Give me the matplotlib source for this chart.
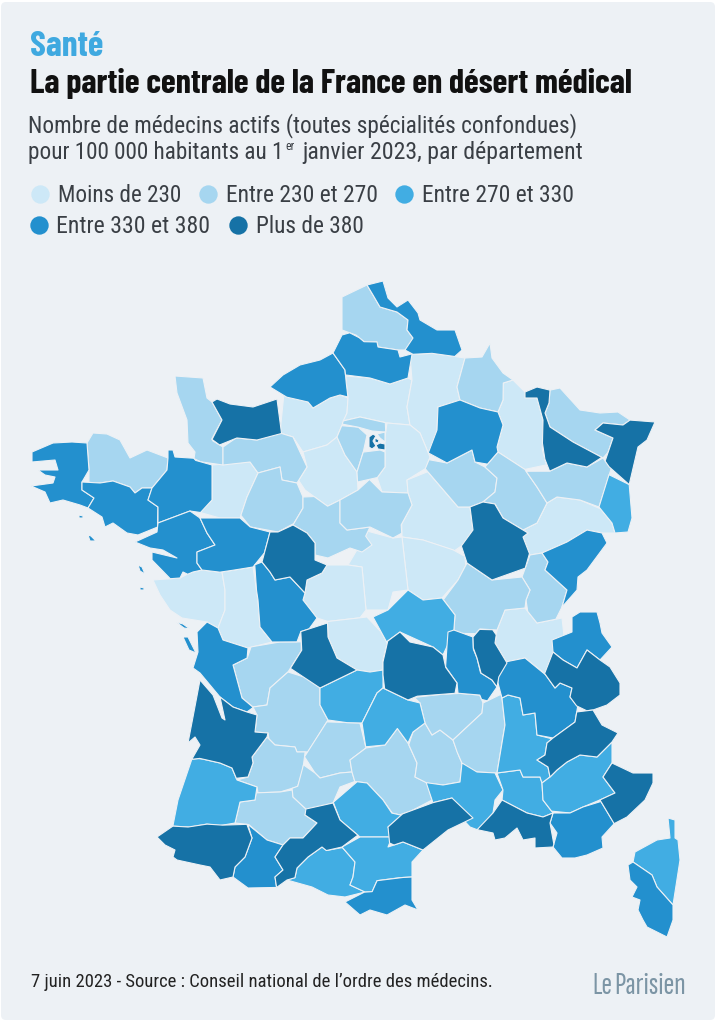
import matplotlib
matplotlib.use("Agg")
import matplotlib.pyplot as plt
import numpy as np
from matplotlib.patches import FancyBboxPatch, Polygon

# classes: 0 <230, 1 230-270, 2 270-330, 3 330-380, 4 >380
LEGEND_LABELS = ["Moins de 230", "Entre 230 et 270", "Entre 270 et 330",
                 "Entre 330 et 380", "Plus de 380"]
CLASS_COLORS = ["#CDE8F7", "#A6D6F0", "#41ADE3", "#2390CE", "#1672A6"]
BG = "#EDF1F5"

CLASS_0 = ["Mayenne", "Vendee", "Deux-Sevres", "Eure", "Eure-et-Loir", "Oise", "Aisne",
           "Seine-et-Marne", "Yonne", "Nievre", "Cher", "Indre", "Creuse", "Meuse",
           "Haute-Saone", "Ain"]
CLASS_1 = ["Cotes-d'Armor", "Manche", "Orne", "Sarthe", "Loir-et-Cher", "Loiret", "Yvelines",
           "Val-d'Oise", "Essonne", "Seine-Saint-Denis", "Pas-de-Calais", "Ardennes", "Aube",
           "Haute-Marne", "Moselle", "Vosges", "Jura", "Saone-et-Loire", "Charente", "Dordogne",
           "Lot-et-Garonne", "Gers", "Lot", "Tarn-et-Garonne", "Aveyron", "Lozere",
           "Haute-Loire", "Ardeche"]
CLASS_2 = ["Haut-Rhin", "Allier", "Correze", "Cantal", "Landes", "Ariege", "Tarn", "Aude", "Gard",
           "Vaucluse", "Drome", "Alpes-de-Haute-Provence", "Haute-Corse"]
CLASS_3 = ["Finistere", "Morbihan", "Ille-et-Vilaine", "Loire-Atlantique", "Maine-et-Loire",
           "Vienne", "Charente-Maritime", "Seine-Maritime", "Somme", "Nord", "Marne", "Doubs",
           "Loire", "Isere", "Haute-Savoie", "Hautes-Pyrenees", "Pyrenees-Orientales", "Var",
           "Corse-du-Sud", "Ile de Re", "Ile d'Oleron", "Belle-Ile", "Noirmoutier", "Yeu", "Groix"]
CLASS_4 = ["Calvados", "Indre-et-Loire", "Haute-Vienne", "Meurthe-et-Moselle", "Bas-Rhin",
           "Cote-d'Or", "Puy-de-Dome", "Rhone", "Savoie", "Hautes-Alpes", "Alpes-Maritimes",
           "Gironde", "Pyrenees-Atlantiques", "Haute-Garonne", "Herault", "Bouches-du-Rhone",
           "Hauts-de-Seine", "Paris", "Val-de-Marne"]
NO_SNAP = ["Hauts-de-Seine", "Paris", "Seine-Saint-Denis", "Val-de-Marne", "Ile de Re",
           "Ile d'Oleron", "Belle-Ile", "Noirmoutier", "Yeu", "Groix"]

# department outlines, in pixels
OUTLINES = {
    "Finistere": [(32,452),(53,443),(72,442),(87,443),(89,470),(82,482),(82,490),(94,498),(88,508),(80,505),(63,500),(50,503),(45,492),(31,486),(53,483),(55,477),(45,475),(38,470),(58,470),(55,460),(32,462)],
    "Cotes-d'Armor": [(87,443),(93,433),(107,434),(120,440),(130,458),(147,450),(168,458),(167,470),(152,488),(142,488),(135,493),(130,487),(113,481),(100,483),(89,481),(89,470)],
    "Morbihan": [(82,482),(100,483),(113,481),(130,487),(135,493),(142,488),(152,488),(148,500),(158,507),(157,527),(138,535),(127,533),(113,523),(105,527),(102,517),(88,508),(94,498),(82,490)],
    "Ille-et-Vilaine": [(168,458),(168,450),(173,450),(175,457),(190,457),(193,465),(211,463),(212,500),(200,512),(190,511),(158,523),(158,507),(148,500),(152,488),(167,470)],
    "Loire-Atlantique": [(135,542),(157,532),(158,523),(190,511),(200,517),(207,533),(215,545),(197,552),(197,563),(202,570),(193,572),(188,575),(183,572),(180,578),(170,575),(152,560),(152,552),(177,558),(163,550),(150,548)],
    "Maine-et-Loire": [(200,518),(240,518),(250,528),(270,532),(265,553),(253,567),(233,572),(220,573),(202,570),(197,563),(197,552),(215,545),(207,533)],
    "Mayenne": [(212,465),(250,462),(258,473),(247,497),(240,518),(220,520),(200,513),(212,500)],
    "Sarthe": [(258,473),(280,467),(282,480),(297,483),(303,497),(303,508),(293,523),(278,532),(250,527),(240,515),(247,497)],
    "Orne": [(223,447),(237,440),(257,440),(280,433),(293,437),(307,467),(305,473),(297,483),(282,480),(280,467),(258,473),(250,462),(223,465)],
    "Manche": [(175,376),(203,378),(207,398),(212,402),(222,420),(210,438),(212,443),(223,447),(223,465),(200,465),(192,460),(195,452),(188,443),(187,420),(177,393)],
    "Calvados": [(212,402),(217,399),(230,404),(253,407),(277,399),(282,432),(257,440),(237,437),(220,444),(209,441),(222,420)],
    "Seine-Maritime": [(270,387),(283,375),(300,365),(320,360),(333,353),(345,370),(345,383),(348,397),(340,395),(330,398),(313,408),(308,402),(287,395)],
    "Eure": [(282,398),(308,402),(313,408),(330,398),(340,395),(348,398),(347,413),(337,437),(327,445),(303,452),(293,437),(280,433)],
    "Eure-et-Loir": [(298,480),(307,467),(303,452),(327,445),(337,437),(345,455),(357,472),(358,490),(340,500),(327,507),(305,490)],
    "Yvelines": [(340,425),(358,428),(367,435),(363,450),(357,472),(345,455),(337,437)],
    "Loiret": [(340,523),(340,500),(358,490),(370,482),(382,492),(408,493),(412,505),(400,525),(403,533),(393,538),(370,527),(347,530)],
    "Loir-et-Cher": [(293,525),(303,508),(303,497),(313,498),(328,507),(340,500),(340,523),(347,530),(370,527),(367,537),(372,545),(362,552),(350,548),(328,558),(315,555),(315,543),(307,533)],
    "Indre-et-Loire": [(270,532),(278,532),(293,525),(307,533),(315,543),(315,560),(327,565),(322,573),(307,580),(305,593),(290,577),(275,580),(270,572),(262,562)],
    "Creuse": [(328,620),(367,617),(380,633),(387,643),(382,660),(383,670),(370,672),(357,670),(337,658),(328,637)],
    "Haute-Vienne": [(300,630),(327,623),(328,637),(337,658),(357,670),(320,688),(290,668),(303,650)],
    "Vienne": [(255,565),(262,562),(270,572),(275,580),(290,577),(305,593),(303,600),(317,618),(308,625),(298,632),(297,640),(272,642),(260,627),(258,600),(259,590)],
    "Cher": [(348,565),(370,532),(393,538),(402,537),(408,590),(393,592),(388,610),(366,610),(362,567)],
    "Indre": [(305,593),(307,580),(322,573),(327,565),(348,565),(362,567),(366,610),(360,618),(328,622),(317,618),(303,600)],
    "Nievre": [(402,537),(423,540),(453,550),(463,557),(465,565),(458,580),(442,598),(423,600),(408,590)],
    "Seine-et-Marne": [(387,423),(410,425),(420,433),(430,457),(425,468),(407,480),(408,493),(382,492),(378,482),(385,467),(385,437)],
    "Yonne": [(407,480),(425,474),(440,490),(458,507),(470,507),(473,530),(462,545),(455,550),(423,540),(402,537),(400,523),(412,505),(408,493)],
    "Aube": [(426,470),(430,460),(447,463),(472,450),(475,462),(485,467),(497,478),(495,492),(483,502),(470,507),(458,507)],
    "Marne": [(438,407),(460,400),(480,408),(498,412),(503,425),(497,447),(498,452),(485,462),(475,462),(472,450),(447,463),(428,453),(437,430)],
    "Aisne": [(410,355),(433,353),(465,358),(457,387),(460,400),(438,407),(437,430),(430,457),(420,433),(410,425),(407,407),(412,380)],
    "Ardennes": [(465,358),(482,357),(490,343),(492,358),(503,373),(513,380),(503,383),(503,400),(498,412),(480,408),(460,400),(457,387)],
    "Meuse": [(503,382),(513,380),(525,392),(537,398),(543,420),(540,450),(543,467),(525,469),(498,452),(497,447),(503,425),(498,412),(503,400)],
    "Meurthe-et-Moselle": [(525,392),(537,387),(548,390),(549,403),(545,413),(550,427),(573,442),(602,457),(587,467),(567,463),(550,472),(542,460),(540,443),(543,420),(537,398),(525,398)],
    "Moselle": [(550,390),(560,388),(580,410),(600,413),(618,412),(630,420),(623,425),(603,423),(595,430),(613,438),(610,453),(603,458),(573,442),(550,427),(545,413),(549,403)],
    "Bas-Rhin": [(633,418),(655,422),(647,440),(638,447),(630,483),(607,468),(607,460),(613,438),(595,430),(603,423),(623,425)],
    "Haut-Rhin": [(610,475),(630,485),(632,518),(628,532),(615,533),(612,523),(599,507)],
    "Vosges": [(525,472),(548,472),(567,463),(587,467),(603,458),(610,470),(599,507),(580,500),(557,497),(547,503),(537,487)],
    "Haute-Marne": [(485,467),(498,452),(525,470),(537,487),(547,503),(537,523),(523,530),(503,518),(497,503),(483,502),(495,492),(497,478)],
    "Cote-d'Or": [(470,507),(483,502),(495,502),(503,518),(523,530),(528,533),(523,537),(531,553),(522,567),(492,580),(467,563),(462,547),(473,530)],
    "Haute-Saone": [(537,523),(547,503),(557,497),(580,500),(599,510),(612,523),(615,533),(602,533),(587,530),(567,542),(542,553),(530,555),(523,537),(528,533),(523,530)],
    "Doubs": [(542,553),(567,542),(587,530),(602,533),(607,543),(587,570),(578,577),(577,590),(562,607),(567,590),(545,570),(548,562)],
    "Jura": [(530,555),(542,553),(548,562),(545,570),(567,590),(562,607),(556,620),(537,623),(527,612),(526,600),(530,590),(522,577)],
    "Saone-et-Loire": [(458,580),(467,563),(492,580),(522,577),(530,590),(526,600),(525,608),(505,610),(497,630),(480,628),(478,635),(457,635),(455,615),(443,600)],
    "Allier": [(388,610),(408,590),(423,600),(442,598),(455,615),(455,632),(443,655),(433,647),(400,632),(387,642),(373,617)],
    "Puy-de-Dome": [(382,662),(387,640),(400,632),(410,642),(433,647),(443,655),(445,668),(457,683),(455,695),(417,693),(408,700),(385,688),(382,675)],
    "Loire": [(448,632),(453,630),(473,637),(472,650),(477,658),(480,673),(492,680),(497,687),(488,702),(480,700),(480,693),(458,693),(457,683),(445,667),(448,647)],
    "Rhone": [(478,628),(493,627),(497,635),(495,643),(507,663),(503,677),(497,687),(492,680),(480,675),(477,658),(472,648),(473,637)],
    "Ain": [(505,610),(525,608),(537,623),(562,618),(563,633),(547,673),(525,658),(518,663),(507,663),(495,643),(497,630)],
    "Haute-Savoie": [(552,640),(572,632),(572,617),(580,612),(597,612),(600,623),(602,633),(612,647),(600,660),(587,650),(577,668),(563,660),(553,652)],
    "Savoie": [(553,652),(563,660),(577,668),(587,650),(600,660),(610,667),(620,683),(620,695),(607,705),(593,707),(587,713),(575,707),(570,697),(572,688),(560,683),(555,688),(545,673)],
    "Isere": [(500,663),(525,658),(545,675),(555,688),(560,683),(572,688),(570,697),(577,708),(575,722),(553,738),(537,735),(535,713),(523,715),(520,698),(508,695),(502,698),(500,683)],
    "Hautes-Alpes": [(577,712),(593,710),(602,725),(618,733),(612,742),(597,757),(580,755),(567,762),(557,770),(550,777),(548,767),(537,760),(545,755),(547,743),(553,738),(575,722)],
    "Drome": [(502,698),(508,695),(520,698),(523,715),(535,713),(537,735),(553,740),(547,743),(545,755),(537,760),(548,767),(550,777),(542,783),(540,777),(523,777),(520,770),(497,773),(505,725)],
    "Ardeche": [(498,695),(502,698),(505,725),(497,773),(477,772),(462,767),(460,763),(458,752),(453,740),(482,713),(483,703)],
    "Haute-Loire": [(413,695),(440,693),(460,693),(480,695),(483,703),(482,713),(453,740),(440,730),(432,735),(425,723),(420,703)],
    "Cantal": [(377,693),(383,688),(408,700),(420,703),(425,723),(413,732),(408,743),(398,728),(385,745),(365,747),(362,723)],
    "Correze": [(320,688),(357,670),(370,672),(383,670),(383,688),(377,693),(362,723),(347,725),(328,720),(320,705)],
    "Dordogne": [(288,672),(302,678),(313,678),(320,688),(320,705),(328,720),(317,738),(308,752),(297,752),(295,747),(275,745),(268,740),(268,733),(255,732),(257,715),(253,707),(267,705),(270,688)],
    "Charente": [(250,645),(280,642),(300,642),(303,652),(288,672),(270,688),(267,705),(253,707),(242,698),(233,665),(248,658)],
    "Charente-Maritime": [(197,632),(207,622),(218,628),(223,640),(248,648),(248,660),(233,665),(242,698),(252,708),(247,712),(233,707),(220,695),(200,673),(193,668),(198,652)],
    "Deux-Sevres": [(222,572),(253,567),(258,600),(258,613),(260,627),(272,642),(255,643),(248,648),(223,640),(218,628),(225,610),(225,590)],
    "Vendee": [(153,580),(180,578),(187,575),(193,572),(202,570),(218,573),(222,572),(225,590),(225,610),(218,628),(207,622),(182,618),(170,610),(160,595)],
    "Gironde": [(200,680),(213,695),(222,718),(225,720),(220,697),(233,707),(247,712),(257,715),(255,732),(268,733),(267,737),(252,757),(253,763),(248,777),(237,778),(232,768),(220,763),(200,758),(190,755),(200,745),(195,737),(188,743),(193,717)],
    "Landes": [(188,760),(198,755),(202,762),(220,763),(232,768),(237,780),(257,787),(255,800),(240,802),(235,823),(220,827),(207,825),(190,828),(173,825),(178,800)],
    "Lot-et-Garonne": [(248,777),(253,763),(252,757),(267,737),(275,745),(295,747),(297,752),(305,755),(302,770),(298,788),(280,792),(258,793),(257,787),(237,780)],
    "Lot": [(307,757),(327,722),(360,725),(366,748),(350,760),(352,772),(340,773),(328,777),(320,778),(315,773)],
    "Tarn-et-Garonne": [(305,765),(315,773),(320,778),(340,773),(352,772),(353,782),(340,787),(333,803),(307,810),(293,797),(292,788),(300,787)],
    "Gers": [(257,793),(280,792),(292,790),(293,797),(307,810),(305,815),(317,823),(303,838),(290,838),(283,845),(267,840),(250,823),(235,823),(240,802),(255,800)],
    "Pyrenees-Atlantiques": [(157,837),(172,826),(188,828),(207,824),(223,827),(247,823),(252,838),(245,857),(235,867),(232,877),(220,880),(210,867),(200,865),(177,860),(173,857),(175,850),(165,845)],
    "Hautes-Pyrenees": [(248,823),(267,840),(283,845),(275,857),(283,870),(275,877),(273,888),(248,888),(233,877),(235,867),(245,857),(252,838)],
    "Haute-Garonne": [(305,810),(333,803),(340,820),(358,835),(342,847),(327,850),(322,847),(308,857),(297,868),(295,878),(287,880),(277,890),(275,877),(283,870),(275,857),(283,845),(290,838),(303,838),(317,823),(305,815)],
    "Ariege": [(297,878),(297,868),(308,857),(322,847),(327,852),(342,848),(355,862),(353,877),(350,885),(365,892),(345,897),(328,895),(312,887),(287,880)],
    "Tarn": [(335,803),(357,783),(367,783),(383,800),(392,813),(403,817),(388,827),(392,837),(360,837),(340,820)],
    "Aveyron": [(350,760),(366,748),(385,745),(397,728),(408,743),(417,763),(415,777),(427,783),(432,800),(412,815),(400,813),(392,815),(383,800),(367,783),(355,782),(352,772)],
    "Lozere": [(408,745),(413,732),(425,723),(432,735),(440,730),(453,740),(458,757),(462,763),(460,782),(443,785),(428,783),(415,777),(417,763)],
    "Gard": [(425,785),(443,785),(460,782),(462,763),(477,772),(495,772),(503,790),(495,800),(493,813),(478,830),(470,827),(457,813),(452,798),(433,803)],
    "Herault": [(388,827),(403,815),(432,803),(452,798),(473,818),(448,830),(423,850),(403,842),(395,848),(387,842)],
    "Aude": [(342,847),(360,837),(392,837),(388,847),(403,842),(423,850),(412,862),(412,877),(400,877),(375,880),(372,892),(365,892),(350,885),(353,877),(355,862)],
    "Pyrenees-Orientales": [(345,902),(365,895),(373,892),(377,880),(403,877),(412,877),(412,900),(418,910),(405,905),(387,915),(370,910),(360,915)],
    "Bouches-du-Rhone": [(477,830),(493,813),(502,800),(527,813),(543,817),(553,813),(550,823),(557,845),(550,848),(535,848),(535,838),(523,840),(517,828),(505,838),(495,840),(493,833)],
    "Vaucluse": [(497,773),(520,770),(523,777),(540,777),(542,783),(543,800),(553,812),(543,817),(527,813),(502,800),(503,790)],
    "Alpes-de-Haute-Provence": [(550,777),(557,770),(567,762),(580,755),(597,757),(612,742),(612,763),(603,777),(615,793),(600,798),(583,807),(570,813),(553,810),(543,800),(542,783)],
    "Alpes-Maritimes": [(612,763),(633,773),(653,773),(653,783),(645,800),(627,817),(615,823),(600,800),(615,793),(603,777)],
    "Var": [(553,813),(570,813),(583,807),(600,802),(615,825),(602,837),(603,848),(587,855),(575,858),(562,858),(553,847),(557,833),(550,823)],
    "Haute-Corse": [(668,818),(675,820),(675,838),(678,840),(680,860),(673,905),(657,887),(652,875),(633,862),(635,852),(657,840),(670,838)],
    "Corse-du-Sud": [(628,865),(633,862),(652,875),(657,887),(673,905),(673,920),(667,937),(647,927),(643,920),(638,910),(640,900),(632,897),(637,887),(630,880)],
    "Nord": [(367,285),(383,281),(388,298),(397,307),(408,300),(418,313),(420,320),(437,330),(455,330),(462,350),(455,355),(432,353),(413,355),(405,350),(413,338),(407,330),(408,320),(397,312),(380,307),(373,295)],
    "Pas-de-Calais": [(342,297),(367,285),(373,295),(380,307),(397,312),(408,320),(407,330),(413,338),(412,348),(405,350),(398,350),(378,347),(377,342),(363,342),(357,333),(342,330)],
    "Somme": [(333,353),(342,335),(350,332),(362,335),(364,342),(377,342),(378,347),(398,350),(400,357),(412,354),(408,377),(390,384),(370,378),(345,375),(345,370)],
    "Oise": [(345,376),(370,378),(390,384),(408,378),(412,380),(407,407),(410,425),(387,423),(360,416),(343,420),(347,413),(348,398)],
    "Val-d'Oise": [(343,421),(360,417),(385,424),(385,432),(372,431),(358,427),(342,424)],
    "Essonne": [(363,452),(380,450),(385,452),(385,467),(378,478),(358,482),(357,472)],
    "Hauts-de-Seine": [(369,437),(373,434),(376,436),(373,441),(376,446),(372,449),(369,447)],
    "Paris": [(375,438),(379,440),(378,443),(375,442)],
    "Seine-Saint-Denis": [(377,434),(385,432),(385,442),(380,438)],
    "Val-de-Marne": [(376,445),(380,443),(385,444),(385,450),(378,449)],
    "Ile de Re": [(176,622),(183,624),(190,629),(184,628)],
    "Ile d'Oleron": [(183,637),(188,637),(196,653),(189,650)],
    "Belle-Ile": [(88,535),(91,536),(96,541),(90,541)],
    "Noirmoutier": [(138,565),(142,567),(145,574),(140,571)],
    "Yeu": [(140,587),(144,588),(144,590),(140,590)],
    "Groix": [(79,515),(83,516),(83,518),(79,518)],
}


def snap_outlines(outlines, tol=4.0):
    # my hand-read neighbours don't share vertices: pull each point onto the closest other edge
    polys = {k: np.array(v, dtype=float) for k, v in outlines.items()}
    names = [k for k in polys if k not in NO_SNAP]
    for _ in range(2):
        for name in names:
            pts = polys[name]
            for i, p in enumerate(pts):
                best, best_d = None, tol
                for other in names:
                    if other == name:
                        continue
                    a = polys[other]
                    b = np.roll(a, -1, axis=0)
                    ab = b - a
                    t = np.clip(((p - a) * ab).sum(1) / np.maximum((ab * ab).sum(1), 1e-9), 0, 1)
                    proj = a + ab * t[:, None]
                    d = np.hypot(*(proj - p).T)
                    j = d.argmin()
                    if d[j] < best_d:
                        best, best_d = proj[j], d[j]
                if best is not None:
                    pts[i] = best
    return polys


def fit_text(txt, width):
    # scale the font so the string spans the width measured on the picture
    renderer = fig.canvas.get_renderer()
    current = txt.get_window_extent(renderer).width
    txt.set_fontsize(txt.get_fontsize() * width / current)


TITLE_FONT = ["Barlow Condensed", "Roboto Condensed", "Roboto", "DejaVu Sans"]
BODY_FONT = ["Roboto Condensed", "Roboto", "DejaVu Sans"]
LOGO_FONT = ["Sofia Sans Extra Condensed", "Barlow Condensed", "Roboto Condensed", "Roboto"]
INK = "#3A3F45"

fig = plt.figure(figsize=(7.16, 10.24), dpi=100, facecolor="white")
ax = fig.add_axes([0, 0, 1, 1])
ax.set_xlim(0, 716)
ax.set_ylim(1024, 0)
ax.axis("off")

ax.add_patch(FancyBboxPatch((6, 7), 704, 1008, boxstyle="round,pad=5,rounding_size=5",
                            facecolor=BG, edgecolor="none"))

snapped = snap_outlines(OUTLINES)
for cls, names in enumerate([CLASS_0, CLASS_1, CLASS_2, CLASS_3, CLASS_4]):
    for name in names:
        ax.add_patch(Polygon(snapped[name], closed=True, facecolor=CLASS_COLORS[cls],
                             edgecolor=BG, linewidth=0.8, joinstyle="round"))

# titles
fit_text(ax.text(30, 56, "Santé", fontsize=24, fontweight="bold", color="#3FA9E0",
                 family=TITLE_FONT), 73)
fit_text(ax.text(30, 93, "La partie centrale de la France en désert médical", fontsize=24,
                 fontweight="bold", color="#111111", family=TITLE_FONT), 602)
fit_text(ax.text(28, 132, "Nombre de médecins actifs (toutes spécialités confondues)", fontsize=16,
                 color=INK, family=BODY_FONT), 551)
fit_text(ax.text(28, 159, "pour 100 000 habitants au 1", fontsize=16, color=INK,
                 family=BODY_FONT), 256)
ax.text(285, 150, "er", fontsize=8.5, color=INK, family=BODY_FONT)
fit_text(ax.text(302, 159, "janvier 2023, par département", fontsize=16, color=INK,
                 family=BODY_FONT), 282)

# legend
legend_x = [40, 208, 404, 39, 238]
legend_y = [194, 194, 194, 225, 225]
legend_w = [124, 153, 153, 155, 108]
for i, label in enumerate(LEGEND_LABELS):
    ax.scatter(legend_x[i], legend_y[i], s=175, color=CLASS_COLORS[i], linewidths=0)
    fit_text(ax.text(legend_x[i] + 17.5, legend_y[i] + 8, label, fontsize=16, color=INK,
                     family=BODY_FONT), legend_w[i])

# footer
fit_text(ax.text(31, 987, "7 juin 2023 - Source : Conseil national de l’ordre des médecins.",
                 fontsize=12, color="#222222", family=BODY_FONT), 461)
fit_text(ax.text(592, 994, "Le", fontsize=17, fontweight="bold", color="#7C95A5",
                 family=LOGO_FONT), 20)
fit_text(ax.text(614, 994, "Parisien", fontsize=22, fontweight="bold", color="#7C95A5",
                 family=LOGO_FONT), 72)

fig.savefig("out.png", dpi=100)
